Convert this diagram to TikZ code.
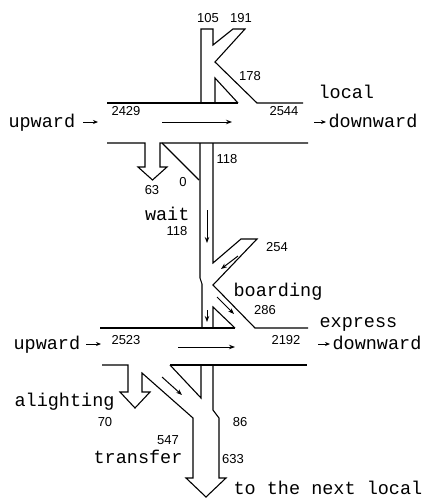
\documentclass[tikz,border=0pt]{standalone}
\usepackage{fontspec}
\setmainfont{Liberation Sans}
\newfontfamily\labfont{Liberation Mono}
\usetikzlibrary{arrows.meta}
\begin{document}
\begin{tikzpicture}[x=1pt,y=-1pt, line width=1.1pt, line join=miter,
  word/.style={font=\labfont\fontsize{18.5}{20}\selectfont, inner sep=0pt},
  num/.style={font=\fontsize{13}{14}\selectfont, inner sep=0pt},
  flow/.style={-{Stealth[length=6pt,width=4.5pt]}, line width=1pt},
  smallarr/.style={-{Stealth[length=5pt,width=4pt]}, line width=1pt}]
\useasboundingbox (0,0) rectangle (429,498);

% ---------- top K (local train) ----------
\draw (201,103) -- (201,29) -- (213,29) -- (213,45) -- (233,29) -- (245,29) -- (215,62) -- (257,103) -- (303,103);
\draw (107,103) -- (238,103);
\draw (215,103) -- (215,78) -- (238,103);

% ---------- top platform lower edge, alighting 63, branch 0 ----------
\draw (107,143) -- (145,143) -- (145,167) -- (138,167) -- (152.5,180) -- (167,167) -- (160,167) -- (160,143) -- (308,143);
\draw (162,143) -- (199,180);

% ---------- wait stem and boarding K ----------
\draw (200,143) -- (200,278) -- (202,284) -- (202,328);
\draw (213,143) -- (213,263) -- (241,239) -- (257,239) -- (213,285) -- (255,328) -- (308,328);
\draw (100,328) -- (235,328);
\draw (213,328) -- (213,307) -- (235,328);

% ---------- lower platform lower edge, alighting, transfer ----------
\draw (102,365) -- (128,365) -- (128,392) -- (120,392) -- (135,408) -- (150,392) -- (142,392) -- (142,373) -- (193,418) -- (193,478) -- (186,478) -- (206,497) -- (226,478) -- (219,478) -- (219,418) -- (213,410) -- (213,365);
\draw (170,365) -- (307,365);
\draw (170,365) -- (201,398) -- (201,365);

% ---------- flow arrows ----------
\draw[flow] (162,122) -- (232,122);
\draw[flow] (178,347) -- (235,347);
\draw[flow] (207,210) -- (207,243);
\draw[flow] (238,256) -- (221,269);
\draw[flow] (207,310) -- (207,322);
\draw[flow] (217,297) -- (234,314);
\draw[flow] (162,377) -- (182,395);

% ---------- word labels ----------
\node[word, anchor=base west] (up1) at (8,127) {upward};
\coordinate (up1a) at (83,122); \coordinate (up1b) at (98,122);
\draw[smallarr] (up1a) -- (up1b);
\node[word, anchor=base west] (loc) at (318,98) {local};
\coordinate (dn1a) at (314,122); \coordinate (dn1b) at (326,122);
\draw[smallarr] (dn1a) -- (dn1b);
\node[word, anchor=base west] (dn1) at (328,127) {downward};

\node[word, anchor=base east] (wait) at (190,220) {wait};
\node[word, anchor=base west] (board) at (233,296) {boarding};
\node[word, anchor=base west] (expr) at (319,327) {express};

\node[word, anchor=base west] (up2) at (13,349) {upward};
\coordinate (up2a) at (86,344); \coordinate (up2b) at (101,344);
\draw[smallarr] (up2a) -- (up2b);
\coordinate (dn2a) at (318,344); \coordinate (dn2b) at (330,344);
\draw[smallarr] (dn2a) -- (dn2b);
\node[word, anchor=base west] (dn2) at (332,349) {downward};

\node[word, anchor=base west] (alight) at (14,406) {alighting};
\node[word, anchor=base east] (trans) at (183,463) {transfer};
\node[word, anchor=base west] (next) at (233,494) {to the next local};

% ---------- number labels ----------
\node[num] (n105) at (208,18) {105};
\node[num] (n191) at (241,18) {191};
\node[num] (n178) at (250,76) {178};
\node[num] (n2429) at (126,111) {2429};
\node[num] (n2544) at (284,111) {2544};
\node[num] (n63) at (152,190) {63};
\node[num] (n0) at (183,182) {0};
\node[num] (n118a) at (227,159) {118};
\node[num] (n118b) at (177,231) {118};
\node[num] (n254) at (277,247) {254};
\node[num] (n286) at (265,310) {286};
\node[num] (n2523) at (126,340) {2523};
\node[num] (n2192) at (286,340) {2192};
\node[num] (n70) at (105,422) {70};
\node[num] (n86) at (240,422) {86};
\node[num] (n547) at (168,440) {547};
\node[num] (n633) at (233,459) {633};
\end{tikzpicture}
\end{document}
